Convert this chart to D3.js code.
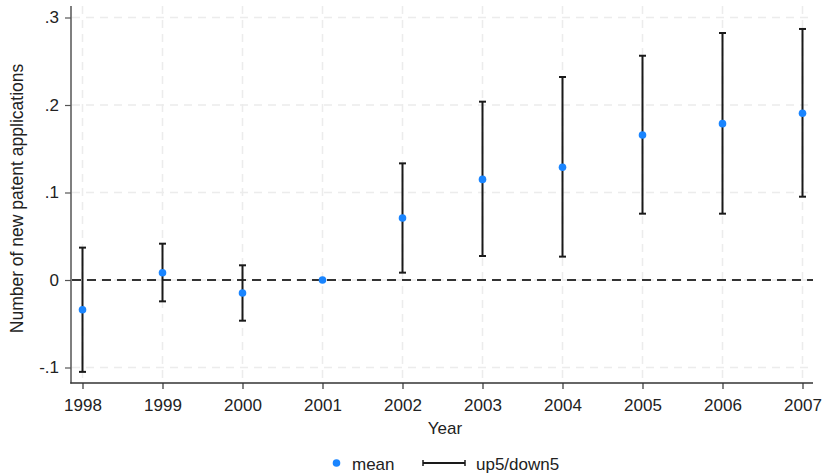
<!DOCTYPE html>
<html>
<head>
<meta charset="utf-8">
<script src="https://cdn.jsdelivr.net/npm/d3@7"></script>
<style>
html,body{margin:0;padding:0;background:#fff;}
svg{display:block;font-family:Arial,"Liberation Sans",sans-serif;}
</style>
</head>
<body>
<svg id="chart" width="839" height="474"></svg>
<script>
const years = [1998, 1999, 2000, 2001, 2002, 2003, 2004, 2005, 2006, 2007];
const meanValues = [-0.034, 0.0083, -0.0149, 0, 0.0709, 0.115, 0.1288, 0.1657, 0.1787, 0.1905];
const upperValues = [0.037, 0.0415, 0.0168, 0, 0.1333, 0.2038, 0.232, 0.2563, 0.2823, 0.2869];
const lowerValues = [-0.105, -0.0244, -0.0465, 0, 0.0084, 0.0274, 0.0267, 0.0758, 0.0758, 0.0952];
const yTicks = [-0.1, 0, 0.1, 0.2, 0.3];
const yTickLabels = ["-.1", "0", ".1", ".2", ".3"];
const xLabel = "Year";
const yLabel = "Number of new patent applications";
const legendLabels = ["mean", "up5/down5"];

(function () {
const svg = d3.select("#chart");
const pLeft = 71, pRight = 813, pTop = 6, pBottom = 383;
const fs = 17;

const x = d3.scaleLinear().domain([1998, 2007]).range([82.5, 802.5]);
const y = d3.scaleLinear().domain([-0.1, 0.3]).range([367.5, 17.5]);

const data = years.map((yr, i) => ({yr, m: meanValues[i], hi: upperValues[i], lo: lowerValues[i]}));

// grid
const grid = svg.append("g");
grid.selectAll("line.h").data(yTicks).join("line")
  .attr("x1", pLeft + 1).attr("x2", pRight)
  .attr("y1", d => y(d)).attr("y2", d => y(d))
  .attr("stroke", "#ececec").attr("stroke-width", 1.5).attr("stroke-dasharray", "8,6");
grid.selectAll("line.v").data(years).join("line")
  .attr("x1", d => x(d)).attr("x2", d => x(d))
  .attr("y1", pTop).attr("y2", pBottom)
  .attr("stroke", "#ececec").attr("stroke-width", 1.5).attr("stroke-dasharray", "8,6");

// zero reference line
svg.append("line")
  .attr("x1", pLeft + 1).attr("x2", pRight)
  .attr("y1", y(0)).attr("y2", y(0))
  .attr("stroke", "#333").attr("stroke-width", 2).attr("stroke-dasharray", "9,6");

// axes
const yAxis = d3.axisLeft(y).tickValues(yTicks).tickFormat((d, i) => yTickLabels[i]).tickSize(6).tickSizeOuter(0);
const gy = svg.append("g").attr("transform", `translate(${pLeft},0)`).call(yAxis);
gy.select(".domain").remove();
gy.append("line").attr("x1", 0).attr("x2", 0).attr("y1", pTop).attr("y2", pBottom + 0.5)
  .attr("stroke", "#555").attr("stroke-width", 1.5);
gy.selectAll(".tick line").attr("stroke", "#555").attr("stroke-width", 1.2);
gy.selectAll(".tick text").attr("font-size", fs).attr("fill", "#222").attr("x", -12)
  .attr("font-family", "Arial, 'Liberation Sans', sans-serif");

const xAxis = d3.axisBottom(x).tickValues(years).tickFormat(d3.format("d")).tickSize(6).tickSizeOuter(0);
const gx = svg.append("g").attr("transform", `translate(0,${pBottom})`).call(xAxis);
gx.select(".domain").remove();
gx.append("line").attr("x1", pLeft - 0.75).attr("x2", pRight).attr("y1", 0).attr("y2", 0)
  .attr("stroke", "#333").attr("stroke-width", 1.5);
gx.selectAll(".tick line").attr("stroke", "#333").attr("stroke-width", 1.2);
gx.selectAll(".tick text").attr("font-size", fs).attr("fill", "#222").attr("y", 15.5)
  .attr("font-family", "Arial, 'Liberation Sans', sans-serif");

// error bars
const eb = svg.append("g");
const barData = data.filter(d => d.hi !== d.lo);
eb.selectAll("line.stem").data(barData).join("line")
  .attr("x1", d => x(d.yr)).attr("x2", d => x(d.yr))
  .attr("y1", d => y(d.hi)).attr("y2", d => y(d.lo))
  .attr("stroke", "#1a1a1a").attr("stroke-width", 2);
eb.selectAll("line.capT").data(barData).join("line")
  .attr("x1", d => x(d.yr) - 3.5).attr("x2", d => x(d.yr) + 3.5)
  .attr("y1", d => y(d.hi)).attr("y2", d => y(d.hi))
  .attr("stroke", "#1a1a1a").attr("stroke-width", 2);
eb.selectAll("line.capB").data(barData).join("line")
  .attr("x1", d => x(d.yr) - 3.5).attr("x2", d => x(d.yr) + 3.5)
  .attr("y1", d => y(d.lo)).attr("y2", d => y(d.lo))
  .attr("stroke", "#1a1a1a").attr("stroke-width", 2);

// points
svg.append("g").selectAll("circle").data(data).join("circle")
  .attr("cx", d => x(d.yr)).attr("cy", d => y(d.m)).attr("r", 3.8)
  .attr("fill", "#1a85ff");

// axis titles
svg.append("text").attr("x", 445).attr("y", 434)
  .attr("text-anchor", "middle").attr("font-size", fs).attr("fill", "#222").text(xLabel);
svg.append("text").attr("transform", `translate(23,${(pTop + pBottom) / 2 + 4}) rotate(-90)`)
  .attr("text-anchor", "middle").attr("font-size", 17.5).attr("fill", "#222").text(yLabel);

// legend
const lg = svg.append("g");
lg.append("circle").attr("cx", 336.5).attr("cy", 463).attr("r", 3.8).attr("fill", "#1a85ff");
lg.append("text").attr("x", 352).attr("y", 469.5).attr("font-size", fs).attr("fill", "#222").text(legendLabels[0]);
lg.append("line").attr("x1", 423).attr("x2", 465).attr("y1", 463).attr("y2", 463)
  .attr("stroke", "#1a1a1a").attr("stroke-width", 2);
lg.append("line").attr("x1", 423).attr("x2", 423).attr("y1", 460).attr("y2", 466)
  .attr("stroke", "#1a1a1a").attr("stroke-width", 1.5);
lg.append("line").attr("x1", 465).attr("x2", 465).attr("y1", 460).attr("y2", 466)
  .attr("stroke", "#1a1a1a").attr("stroke-width", 1.5);
lg.append("text").attr("x", 476).attr("y", 469.5).attr("font-size", fs).attr("fill", "#222").text(legendLabels[1]);
})();
</script>
</body>
</html>
